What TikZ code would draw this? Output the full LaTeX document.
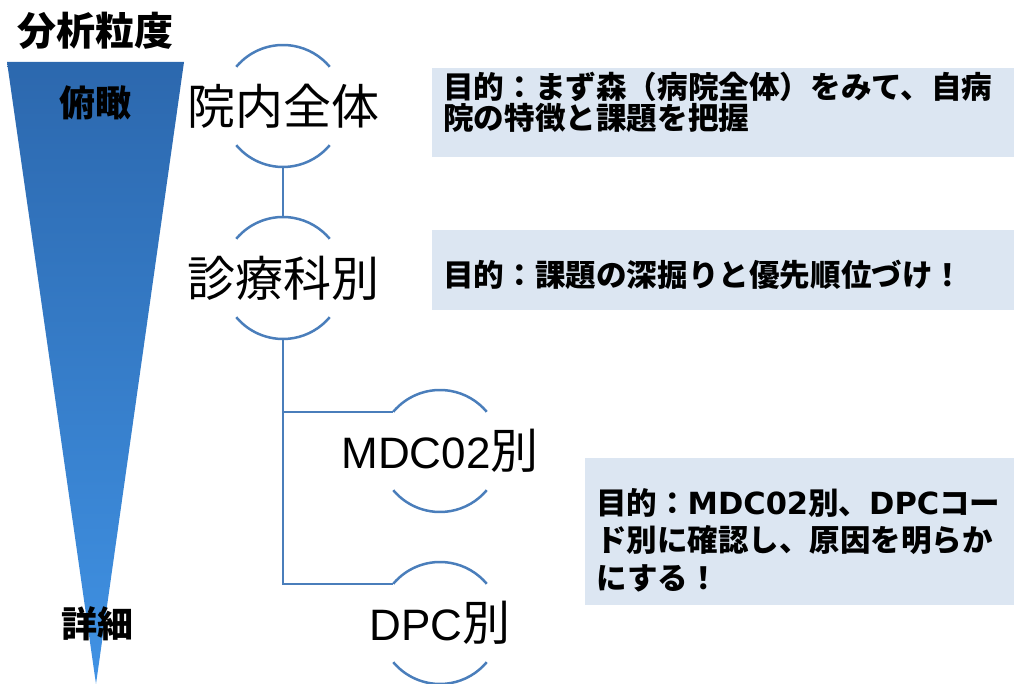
\documentclass[tikz,border=0pt]{standalone}
\usepackage{fontspec}
\setmainfont{Noto Sans CJK JP}
\newfontfamily\latb{DejaVu Sans}
\newfontfamily\latr{Liberation Sans}
\definecolor{treeblue}{RGB}{74,126,187}
\definecolor{boxfill}{RGB}{220,230,242}
\definecolor{tritop}{RGB}{44,104,174}
\definecolor{tribot}{RGB}{64,146,228}
\newcommand\arcpair[1]{%
  \draw[treeline] ([shift={(140:61pt)}]#1.center) arc[start angle=140,end angle=40,radius=61pt];
  \draw[treeline] ([shift={(-140:61pt)}]#1.center) arc[start angle=-140,end angle=-40,radius=61pt];}
\begin{document}
\begin{tikzpicture}[x=1pt,y=1pt,
  treeline/.style={draw=treeblue, line width=2.5pt},
  lbl/.style={inner sep=0pt, font=\fontsize{48}{50}\selectfont},
  head/.style={inner sep=0pt, font=\bfseries\fontsize{36}{38}\selectfont},
  goalbox/.style={fill=boxfill, draw=none, anchor=north west, inner sep=0pt, outer sep=0pt},
  goaltext/.style={anchor=west, align=left, inner sep=0pt}]
\useasboundingbox (0,0) rectangle (1014,684);
% title
\node[inner sep=0pt, font=\bfseries\fontsize{39}{41}\selectfont] (title) at (95,653) {分析粒度};
% gradient triangle
\shade[top color=tritop, bottom color=tribot] (7,622) -- (184,622) -- (96,0) -- cycle;
\node[head] (top) at (95,581) {俯瞰};
\node[head] (bottom) at (97,60) {詳細};
% goal boxes
\node[goalbox, minimum width=582pt, minimum height=89pt] (b1) at (432,616) {};
\node[goalbox, minimum width=582pt, minimum height=80pt] (b2) at (432,454) {};
\node[goalbox, minimum width=429pt, minimum height=147pt] (b3) at (585,226) {};
\node[goaltext, font=\bfseries\fontsize{30.6}{31.5}\selectfont] (t1) at (443,581.5)
  {目的：まず森（病院全体）をみて、自病\\院の特徴と課題を把握};
\node[goaltext, font=\bfseries\fontsize{30.6}{32}\selectfont] (t2) at (443,409)
  {目的：課題の深掘りと優先順位づけ！};
\node[goaltext, font=\bfseries\fontsize{30.5}{37.5}\selectfont] (t3) at (596,144)
  {目的：{\latb MDC02}別、{\latb DPC}コー\\{ド}別に確認し、原因を明らか\\{に}する！};
% tree nodes
\node[lbl] (n1) at (283,578) {院内全体};
\node[lbl] (n2) at (283,406) {診療科別};
\node[lbl] (n3) at (440,233) {{\latr\fontsize{44}{46}\selectfont MDC02}別};
\node[lbl] (n4) at (440,61) {{\latr\fontsize{44}{46}\selectfont DPC}別};
\arcpair{n1}
\arcpair{n2}
\arcpair{n3}
\arcpair{n4}
\coordinate (p3) at ([shift={(140:61pt)}]n3.center);
\coordinate (p4) at ([shift={(140:61pt)}]n4.center);
\draw[treeline] ([yshift=-61pt]n1.center) -- ([yshift=61pt]n2.center);
\draw[treeline] ([yshift=-61pt]n2.center) |- (p4);
\draw[treeline] (n2.center |- p3) -- (p3);
\end{tikzpicture}
\end{document}
